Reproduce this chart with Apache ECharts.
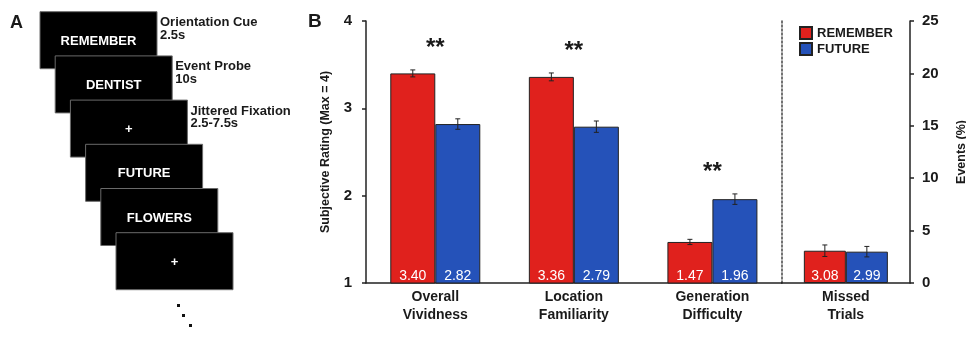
<!DOCTYPE html>
<html><head><meta charset="utf-8">
<script src="https://cdn.jsdelivr.net/npm/echarts@6/dist/echarts.min.js"></script>
<style>html,body{margin:0;padding:0;background:#fff}#c{width:966px;height:337px}</style>
</head><body><div id="c"></div>
<script>
// ---- data ----
const ratingCategories = ['Overall\nVividness', 'Location\nFamiliarity', 'Generation\nDifficulty'];
const missedCategories = ['Missed\nTrials'];
const seriesNames = ['REMEMBER', 'FUTURE'];
const rememberRatings = [3.40, 3.36, 1.47];
const futureRatings = [2.82, 2.79, 1.96];
const rememberRatingErr = [0.04, 0.045, 0.03];
const futureRatingErr = [0.06, 0.065, 0.06];
const rememberMissed = [3.08];
const futureMissed = [2.99];
const rememberMissedErr = [0.55];
const futureMissedErr = [0.5];
const significance = ['**', '**', '**'];
const ratingAxis = { min: 1, max: 4, interval: 1 };
const missedAxis = { min: 0, max: 25, interval: 5 };
const screenWords = ['REMEMBER', 'DENTIST', '+', 'FUTURE', 'FLOWERS', '+'];
const phaseLabels = [['Orientation Cue', '2.5s'], ['Event Probe', '10s'], ['Jittered Fixation', '2.5-7.5s']];

// ---- styles ----
const FONT = '"Liberation Sans", Arial, Helvetica, sans-serif';
const RED = '#e0211d';
const BLUE = '#2552b9';
const INK = '#1a1a1a';
const BW1 = 45, BW2 = 42;

const chart = echarts.init(document.getElementById('c'), null, { renderer: 'canvas' });

function barSeries(name, data, color, xi, yi, bw) {
  return {
    name, type: 'bar', xAxisIndex: xi, yAxisIndex: yi, data,
    barWidth: bw, barGap: '0%',
    itemStyle: { color, borderColor: '#222', borderWidth: 1 },
    label: {
      show: true, position: 'insideBottom', distance: 0, color: '#fff',
      fontFamily: FONT, fontSize: 14, fontWeight: 500,
      formatter: p => p.value.toFixed(2)
    },
    emphasis: { disabled: true }
  };
}
function errSeries(vals, errs, xi, yi, offset) {
  return {
    type: 'custom', xAxisIndex: xi, yAxisIndex: yi, z: 10, silent: true,
    data: vals.map((v, i) => [i, v, errs[i]]),
    encode: { x: 0, y: 1 },
    renderItem: (params, api) => {
      const c = api.value(0), v = api.value(1), e = api.value(2);
      const x = api.coord([c, v])[0] + offset;
      const yh = api.coord([c, v + e])[1];
      const yl = api.coord([c, v - e])[1];
      const st = { stroke: '#222', lineWidth: 1 };
      return { type: 'group', children: [
        { type: 'line', shape: { x1: x, y1: yh, x2: x, y2: yl }, style: st },
        { type: 'line', shape: { x1: x - 2.5, y1: yh, x2: x + 2.5, y2: yh }, style: st },
        { type: 'line', shape: { x1: x - 2.5, y1: yl, x2: x + 2.5, y2: yl }, style: st }
      ]};
    }
  };
}
const starData = significance.map((s, i) => [i, Math.max(rememberRatings[i] + rememberRatingErr[i], futureRatings[i] + futureRatingErr[i]), s]);

// panel A graphics
const graphics = [];
graphics.push({ type: 'text', left: 10, top: 14, style: { text: 'A', font: 'bold 18px ' + FONT, fill: INK } });
graphics.push({ type: 'text', left: 308, top: 12, style: { text: 'B', font: 'bold 19px ' + FONT, fill: INK } });
screenWords.forEach((w, i) => {
  const x0 = 40 + i * 15.2, y0 = 11.7 + i * 44.2;
  graphics.push({ type: 'rect', shape: { x: x0, y: y0, width: 117, height: 57 }, style: { fill: '#000', stroke: '#6a6a6a', lineWidth: 1 }, z: 1 + i });
  graphics.push({ type: 'text', z: 1 + i, style: { text: w, x: x0 + 58.5, y: y0 + 29.5, textAlign: 'center', textVerticalAlign: 'middle', align: 'center', verticalAlign: 'middle', font: 'bold 13px ' + FONT, fill: '#fff' } });
});
phaseLabels.forEach((lines, i) => {
  const x0 = 40 + i * 15.2, y0 = 11.7 + i * 44.2;
  graphics.push({ type: 'text', style: { text: lines.join('\n'), x: x0 + 120, y: y0 + 4.5, lineHeight: 12.8, font: 'bold 13px ' + FONT, fill: INK } });
});
[[177, 304], [182, 314], [189, 324]].forEach(([x, y]) => {
  graphics.push({ type: 'rect', shape: { x, y, width: 3, height: 3 }, style: { fill: '#111' } });
});

const axisLineStyle = { color: '#222', width: 1.5 };
const option = {
  backgroundColor: '#fff',
  animation: false,
  textStyle: { fontFamily: FONT },
  graphic: graphics,
  legend: {
    data: seriesNames, orient: 'vertical', left: 794, top: 21,
    itemWidth: 12, itemHeight: 12, itemGap: 2, icon: 'rect',
    textStyle: { fontFamily: FONT, fontSize: 13, fontWeight: 'bold', color: INK },
    selectedMode: false
  },
  grid: [
    { left: 366, top: 21, width: 415.7, height: 262, outerBoundsMode: 'none', containLabel: false },
    { left: 781.7, top: 21, width: 128.3, height: 262, outerBoundsMode: 'none', containLabel: false }
  ],
  xAxis: [
    { type: 'category', gridIndex: 0, data: ratingCategories,
      axisLine: { lineStyle: axisLineStyle }, axisTick: { show: false },
      axisLabel: { interval: 0, margin: 5, color: INK, fontFamily: FONT, fontSize: 14, fontWeight: 'bold', lineHeight: 18 } },
    { type: 'category', gridIndex: 1, data: missedCategories,
      axisLine: { lineStyle: axisLineStyle }, axisTick: { show: false },
      axisLabel: { interval: 0, margin: 5, color: INK, fontFamily: FONT, fontSize: 14, fontWeight: 'bold', lineHeight: 18 } }
  ],
  yAxis: [
    { type: 'value', gridIndex: 0, position: 'left', min: ratingAxis.min, max: ratingAxis.max, interval: ratingAxis.interval,
      name: 'Subjective Rating (Max = 4)', nameLocation: 'middle', nameGap: 34, nameRotate: 90,
      nameTextStyle: { fontFamily: FONT, fontSize: 12.5, fontWeight: 'bold', color: INK },
      axisLine: { show: true, lineStyle: axisLineStyle }, axisTick: { show: true, length: 4, lineStyle: axisLineStyle },
      splitLine: { show: false },
      axisLabel: { margin: 14, color: INK, fontFamily: FONT, fontSize: 15, fontWeight: 'bold' } },
    { type: 'value', gridIndex: 1, position: 'right', min: missedAxis.min, max: missedAxis.max, interval: missedAxis.interval,
      name: 'Events (%)', nameLocation: 'middle', nameGap: 45, nameRotate: 90,
      nameTextStyle: { fontFamily: FONT, fontSize: 12.5, fontWeight: 'bold', color: INK },
      axisLine: { show: true, lineStyle: axisLineStyle }, axisTick: { show: true, length: 4, lineStyle: axisLineStyle },
      splitLine: { show: false },
      axisLabel: { margin: 12, color: INK, fontFamily: FONT, fontSize: 15, fontWeight: 'bold' } },
    { type: 'value', gridIndex: 1, position: 'left', min: missedAxis.min, max: missedAxis.max,
      axisLine: { show: true, lineStyle: { color: '#444', width: 1.5, type: [2, 2] } },
      axisTick: { show: false }, axisLabel: { show: false }, splitLine: { show: false } }
  ],
  series: [
    barSeries('REMEMBER', rememberRatings, RED, 0, 0, BW1),
    barSeries('FUTURE', futureRatings, BLUE, 0, 0, BW1),
    barSeries('REMEMBER', rememberMissed, RED, 1, 1, BW2),
    barSeries('FUTURE', futureMissed, BLUE, 1, 1, BW2),
    errSeries(rememberRatings, rememberRatingErr, 0, 0, -BW1 / 2),
    errSeries(futureRatings, futureRatingErr, 0, 0, BW1 / 2),
    errSeries(rememberMissed, rememberMissedErr, 1, 1, -BW2 / 2),
    errSeries(futureMissed, futureMissedErr, 1, 1, BW2 / 2),
    {
      type: 'custom', xAxisIndex: 0, yAxisIndex: 0, z: 10, silent: true,
      data: starData, encode: { x: 0, y: 1 },
      renderItem: (params, api) => {
        const p = api.coord([api.value(0), api.value(1)]);
        return { type: 'text', style: { text: starData[params.dataIndex][2], x: p[0], y: p[1] - 10,
          textAlign: 'center', align: 'center', textVerticalAlign: 'bottom', verticalAlign: 'bottom',
          font: 'bold 24px ' + FONT, fill: INK } };
      }
    }
  ]
};
chart.setOption(option);
</script>
</body></html>
